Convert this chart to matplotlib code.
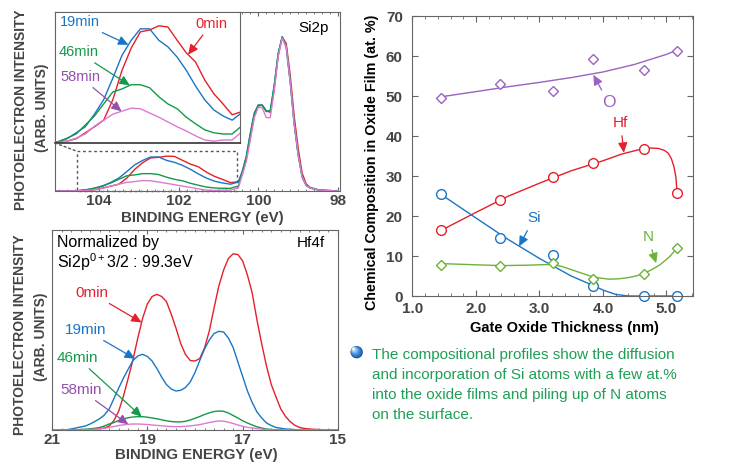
import numpy as np
import matplotlib.pyplot as plt
from matplotlib.patches import Rectangle, ConnectionPatch, Ellipse
from matplotlib.ticker import MultipleLocator

plt.rcParams['font.family'] = ['Liberation Sans', 'DejaVu Sans']
plt.rcParams['mathtext.fontset'] = 'custom'
plt.rcParams['mathtext.rm'] = 'Liberation Sans'
plt.rcParams['mathtext.it'] = 'Liberation Sans:italic'
plt.rcParams['mathtext.bf'] = 'Liberation Sans:bold'

W, H = 735, 465

# --- Si2p spectra (binding energy / intensity, arb. units) ---
si_ev = [105.1, 104.5, 104.3, 104.1, 103.9, 103.7, 103.5, 103.3, 103.1, 102.9, 102.7,
         102.5, 102.3, 102.1, 101.9, 101.7, 101.5, 101.3, 101.1, 100.9, 100.7, 100.5,
         100.4, 100.3, 100.2, 100.1, 100.0, 99.9, 99.8, 99.7, 99.6, 99.5, 99.4, 99.3,
         99.2, 99.1, 99.0, 98.9, 98.8, 98.7, 98.5, 98.3, 98.0]
si_0min = [0.0, 0.002, 0.003, 0.007, 0.017, 0.027, 0.038, 0.072, 0.121, 0.158, 0.185,
           0.188, 0.195, 0.193, 0.171, 0.150, 0.135, 0.105, 0.082, 0.065, 0.047, 0.052,
           0.100, 0.180, 0.300, 0.420, 0.475, 0.480, 0.447, 0.440, 0.570, 0.755, 0.860,
           0.825, 0.650, 0.420, 0.240, 0.100, 0.040, 0.020, 0.008, 0.003, 0.0]
si_19min = [0.0, 0.002, 0.007, 0.017, 0.027, 0.048, 0.072, 0.108, 0.146, 0.171, 0.190,
            0.190, 0.171, 0.160, 0.143, 0.121, 0.095, 0.072, 0.055, 0.045, 0.038, 0.050,
            0.112, 0.196, 0.324, 0.436, 0.480, 0.478, 0.444, 0.447, 0.592, 0.771, 0.860,
            0.804, 0.609, 0.374, 0.201, 0.078, 0.031, 0.017, 0.006, 0.003, 0.0]
si_46min = [0.0, 0.002, 0.008, 0.015, 0.030, 0.045, 0.065, 0.085, 0.090, 0.097, 0.097,
            0.092, 0.077, 0.065, 0.057, 0.043, 0.032, 0.022, 0.017, 0.015, 0.015, 0.028,
            0.105, 0.190, 0.318, 0.432, 0.480, 0.480, 0.447, 0.447, 0.588, 0.768, 0.862,
            0.810, 0.617, 0.380, 0.205, 0.080, 0.032, 0.017, 0.006, 0.003, 0.0]
si_58min = [0.0, 0.001, 0.003, 0.008, 0.015, 0.028, 0.038, 0.048, 0.053, 0.058, 0.057,
            0.050, 0.043, 0.035, 0.027, 0.020, 0.012, 0.005, 0.003, 0.005, 0.005, 0.018,
            0.090, 0.165, 0.285, 0.410, 0.468, 0.465, 0.410, 0.410, 0.560, 0.755, 0.855,
            0.805, 0.615, 0.380, 0.205, 0.080, 0.031, 0.017, 0.006, 0.003, 0.0]

# --- Hf4f spectra ---
hf_ev = [21.0, 20.8, 20.7, 20.6, 20.5, 20.4, 20.3, 20.2, 20.1, 20.0, 19.9, 19.8, 19.7,
         19.6, 19.5, 19.4, 19.3, 19.2, 19.1, 19.0, 18.9, 18.8, 18.7, 18.6, 18.5, 18.4,
         18.3, 18.2, 18.1, 18.0, 17.9, 17.8, 17.7, 17.6, 17.5, 17.4, 17.3, 17.2, 17.1,
         17.0, 16.9, 16.8, 16.7, 16.6, 16.5, 16.4, 16.3, 16.2, 16.1, 16.0, 15.9, 15.8,
         15.7, 15.6, 15.5, 15.4, 15.3, 15.2, 15.0]
hf_0min = [0, 0, 0, 0, 0, 0, 0.001, 0.0025, 0.005, 0.0075, 0.01, 0.02, 0.0475, 0.095,
           0.17, 0.26, 0.3525, 0.46, 0.5575, 0.63, 0.6675, 0.6785, 0.6675, 0.6425, 0.58,
           0.51, 0.4325, 0.3775, 0.3475, 0.345, 0.3575, 0.41, 0.495, 0.61, 0.72, 0.80,
           0.8575, 0.881, 0.8775, 0.845, 0.775, 0.685, 0.55, 0.43, 0.32, 0.2275, 0.165,
           0.105, 0.0675, 0.041, 0.0225, 0.0125, 0.0075, 0.005, 0.0035, 0.0025, 0.001, 0, 0]
hf_19min = [0, 0, 0.001, 0.005, 0.01, 0.015, 0.02, 0.03, 0.0425, 0.0565, 0.075, 0.105,
            0.1575, 0.21, 0.26, 0.305, 0.3475, 0.37, 0.3785, 0.3675, 0.345, 0.3075, 0.265,
            0.2275, 0.205, 0.195, 0.1985, 0.2125, 0.24, 0.2875, 0.3475, 0.405, 0.45,
            0.4825, 0.4935, 0.49, 0.46, 0.4125, 0.34, 0.2675, 0.195, 0.1375, 0.09, 0.06,
            0.035, 0.0225, 0.0125, 0.0085, 0.005, 0.0035, 0.002, 0, 0, 0, 0, 0, 0, 0, 0]
hf_46min = [0, 0, 0, 0, 0.001, 0.0025, 0.004, 0.006, 0.0085, 0.0125, 0.02, 0.03, 0.0375,
            0.0475, 0.055, 0.0615, 0.065, 0.0665, 0.0665, 0.064, 0.06, 0.056, 0.051, 0.046,
            0.0425, 0.0405, 0.0405, 0.0435, 0.05, 0.0585, 0.0675, 0.0775, 0.086, 0.0925,
            0.095, 0.0935, 0.085, 0.0725, 0.06, 0.046, 0.035, 0.025, 0.016, 0.01, 0.005,
            0.0025, 0.001, 0, 0, 0, 0, 0, 0, 0, 0, 0, 0, 0, 0]
hf_58min = [0, 0, 0, 0, 0, 0, 0.001, 0.0025, 0.004, 0.006, 0.0085, 0.0125, 0.0175, 0.0225,
            0.026, 0.0285, 0.03, 0.03, 0.029, 0.0275, 0.025, 0.023, 0.021, 0.019, 0.0175,
            0.0165, 0.017, 0.0185, 0.0205, 0.0235, 0.027, 0.032, 0.0375, 0.042, 0.045,
            0.044, 0.039, 0.0325, 0.025, 0.0185, 0.0135, 0.01, 0.007, 0.0045, 0.0025,
            0.001, 0, 0, 0, 0, 0, 0, 0, 0, 0, 0, 0, 0, 0]

# --- composition vs. gate oxide thickness ---
thickness = [1.45, 2.38, 3.22, 3.85, 4.64, 5.17]
comp_O = [49.4, 52.9, 51.25, 59.25, 56.4, 61.25]
comp_Hf = [16.4, 24.0, 29.75, 33.25, 36.75, 25.7]
comp_Si = [25.4, 14.5, 10.2, 2.4, 0.0, 0.0]
comp_N = [7.75, 7.5, 8.2, 4.2, 5.4, 12.0]

# guide-to-the-eye curves
o_fit_x = [1.45, 2.0, 2.5, 3.0, 3.5, 4.0, 4.5, 5.0, 5.17]
o_fit = [49.8, 51.1, 52.3, 53.4, 54.6, 56.0, 57.9, 60.4, 61.5]
hf_fit_x = [1.45, 2.0, 2.5, 3.0, 3.5, 4.0, 4.3, 4.6, 4.75, 4.87, 4.97, 5.03, 5.08, 5.12, 5.15, 5.17]
hf_fit = [16.4, 20.9, 24.9, 28.2, 31.3, 33.8, 35.5, 36.7, 37.0, 36.9, 36.4, 35.7, 34.3, 32.3, 29.8, 25.7]
si_fit_x = [1.45, 2.0, 2.5, 3.0, 3.5, 3.85, 4.0, 4.2, 4.4, 5.17]
si_fit = [25.4, 19.5, 14.2, 9.4, 5.0, 2.6, 1.5, 0.4, 0.0, 0.0]
n_fit_x = [1.45, 2.0, 2.4, 2.8, 3.2, 3.35, 3.5, 3.65, 3.8, 3.95, 4.1, 4.25, 4.4, 4.52, 4.64, 4.77, 4.9, 5.05, 5.17]
n_fit = [8.1, 7.8, 7.6, 7.7, 7.9, 7.4, 6.6, 5.8, 5.0, 4.5, 4.2, 4.3, 4.6, 5.0, 5.6, 6.6, 7.8, 9.8, 12.0]

RED = '#e5202a'
BLUE = '#1b75c5'
GREEN = '#13994a'
PINK = '#dc7ad2'
PURPLE = '#9450ad'
O_COL = '#9b62c2'
N_COL = '#6db33a'
GREY = '#444444'
FRAME = '#666666'

sessions = ['0min', '19min', '46min', '58min']
si_curves = [si_0min, si_19min, si_46min, si_58min]
hf_curves = [hf_0min, hf_19min, hf_46min, hf_58min]
line_cols = [RED, BLUE, GREEN, PINK]
text_cols = [RED, BLUE, GREEN, PURPLE]
ARROW = '-|>,head_length=0.6,head_width=0.28'


def at(x, xs, ys):
    return float(np.interp(x, xs[::-1], ys[::-1]))


def px_axes(fig, l, t, r, b):
    return fig.add_axes([l / W, 1 - b / H, (r - l) / W, (b - t) / H])


def spectrum_frame(ax):
    for s in ax.spines.values():
        s.set_color(FRAME)
        s.set_linewidth(0.8)
    ax.set_yticks([])
    ax.xaxis.set_minor_locator(MultipleLocator(0.2))
    ax.tick_params(axis='x', which='both', direction='in', top=True, color=FRAME,
                   labelcolor=GREY, labelsize=11, pad=2)
    ax.tick_params(axis='x', which='major', length=3)
    ax.tick_params(axis='x', which='minor', length=1.5)


def label(ax, name, xy, xytext, tc, fs):
    ax.annotate(name, xy=xy, xytext=xytext, color=tc, fontsize=fs, ha='left', va='center',
                arrowprops=dict(arrowstyle=ARROW, color=tc, lw=0.9, shrinkA=1, shrinkB=0,
                                mutation_scale=10))


fig = plt.figure(figsize=(W / 100, H / 100), dpi=100)

# ---------------- Si2p ----------------
ax1 = px_axes(fig, 55, 12, 340, 191)
for ys, c in zip(si_curves, line_cols):
    ax1.plot(si_ev, ys, color=c, lw=1.0, solid_joinstyle='round')
ax1.set_xlim(105.1, 97.95)
ax1.set_ylim(0, 1.0)
spectrum_frame(ax1)
ax1.set_xticks([104, 102, 100, 98], ['104', '102', '100', '98'], fontweight='bold')
ax1.text(99.0, 0.91, 'Si2p', fontsize=11, ha='left', va='center')
ax1.add_patch(Rectangle((100.53, 0), 4.03, 0.223, fill=False, ec='#555555', lw=1.0,
                        ls=(0, (2, 2)), clip_on=False))

# magnified view of the oxide components
axin = px_axes(fig, 55, 12, 240, 143)
for ys, c in zip(si_curves, line_cols):
    axin.plot(si_ev, ys, color=c, lw=1.0, solid_joinstyle='round')
axin.set_xlim(104.56, 100.53)
axin.set_ylim(0, 0.218)
axin.set_xticks([])
axin.set_yticks([])
for s in axin.spines.values():
    s.set_color(FRAME)
    s.set_linewidth(0.8)
axin.spines['bottom'].set_color('#222222')
axin.spines['bottom'].set_linewidth(1.1)

fig.add_artist(ConnectionPatch(xyA=(104.56, 0), coordsA=axin.transData,
                               xyB=(104.56, 0.223), coordsB=ax1.transData,
                               color='#555555', lw=1.0, ls=(0, (1.5, 2))))

si_text = [(101.51, 0.198), (104.45, 0.201), (104.49, 0.151), (104.45, 0.110)]
si_tip = [101.66, 102.96, 102.93, 103.11]
for name, ys, tc, pos, tip in zip(sessions, si_curves, text_cols, si_text, si_tip):
    label(axin, name, (tip, at(tip, si_ev, ys)), pos, tc, 10.5)

fig.text(21 / W, 1 - 110 / H, 'PHOTOELECTRON INTENSITY', rotation=90, ha='center',
         va='center', fontsize=10, fontweight='bold', color=GREY)
fig.text(42 / W, 1 - 108 / H, '(ARB. UNITS)', rotation=90, ha='center', va='center',
         fontsize=10, fontweight='bold', color=GREY)
fig.text(202 / W, 1 - 218 / H, 'BINDING ENERGY (eV)', ha='center', va='center',
         fontsize=10.8, fontweight='bold', color=GREY)

# ---------------- Hf4f ----------------
ax2 = px_axes(fig, 52, 230, 338, 430)
for ys, c in zip(hf_curves, line_cols):
    ax2.plot(hf_ev, ys, color=c, lw=1.0, solid_joinstyle='round')
ax2.set_xlim(21.0, 15.0)
ax2.set_ylim(0, 1.0)
spectrum_frame(ax2)
ax2.set_xticks([21, 19, 17, 15], ['21', '19', '17', '15'], fontweight='bold')
ax2.text(20.9, 0.94, 'Normalized by', fontsize=11.5, ha='left', va='center')
ax2.text(20.9, 0.84, r'Si2p$^{0+}$3/2 : 99.3eV', fontsize=11.5, ha='left', va='center')
ax2.text(15.87, 0.935, 'Hf4f', fontsize=11, ha='left', va='center')

hf_text = [(20.52, 0.685), (20.73, 0.50), (20.90, 0.36), (20.83, 0.20)]
hf_tip = [19.12, 19.26, 19.12, 19.40]
for name, ys, tc, pos, tip in zip(sessions, hf_curves, text_cols, hf_text, hf_tip):
    label(ax2, name, (tip, at(tip, hf_ev, ys)), pos, tc, 11)

fig.text(20 / W, 1 - 335 / H, 'PHOTOELECTRON INTENSITY', rotation=90, ha='center',
         va='center', fontsize=10, fontweight='bold', color=GREY)
fig.text(41 / W, 1 - 337 / H, '(ARB. UNITS)', rotation=90, ha='center', va='center',
         fontsize=10, fontweight='bold', color=GREY)
fig.text(196 / W, 1 - 455 / H, 'BINDING ENERGY (eV)', ha='center', va='center',
         fontsize=10.8, fontweight='bold', color=GREY)

# ---------------- composition ----------------
ax3 = px_axes(fig, 412.5, 16, 693, 296)
ax3.plot(o_fit_x, o_fit, color=O_COL, lw=1.0)
ax3.plot(hf_fit_x, hf_fit, color=RED, lw=1.0)
ax3.plot(si_fit_x, si_fit, color=BLUE, lw=1.0)
ax3.plot(n_fit_x, n_fit, color=N_COL, lw=1.0)
ax3.plot(thickness, comp_O, ls='none', marker='D', ms=5, mfc='white', mec=O_COL, mew=1.0)
ax3.plot(thickness, comp_Hf, ls='none', marker='o', ms=7, mfc='white', mec=RED, mew=1.0)
ax3.plot(thickness, comp_Si, ls='none', marker='o', ms=7, mfc='white', mec=BLUE, mew=1.0,
         clip_on=False)
ax3.plot(thickness, comp_N, ls='none', marker='D', ms=5, mfc='white', mec=N_COL, mew=1.0)
ax3.set_xlim(1.0, 5.42)
ax3.set_ylim(0, 70)
for s in ax3.spines.values():
    s.set_color(FRAME)
    s.set_linewidth(0.8)
ax3.set_xticks([1, 2, 3, 4, 5], ['1.0', '2.0', '3.0', '4.0', '5.0'], fontweight='bold')
ax3.set_yticks(range(0, 80, 10), [str(v) for v in range(0, 80, 10)], fontweight='bold')
ax3.xaxis.set_minor_locator(MultipleLocator(0.2))
ax3.tick_params(which='both', direction='in', top=True, right=True, color=FRAME,
                labelcolor=GREY, labelsize=11)
ax3.tick_params(which='major', length=4)
ax3.tick_params(which='minor', length=2)
ax3.tick_params(axis='y', pad=7)
ax3.tick_params(axis='x', pad=4)

comp_labels = [('O', (3.85, 55.3), (4.09, 48.3), O_COL, 12.5),
               ('Hf', (4.33, 35.8), (4.28, 43.2), RED, 11),
               ('Si', (2.68, 12.4), (2.91, 19.4), BLUE, 11),
               ('N', (4.84, 8.2), (4.71, 14.7), N_COL, 11)]
for name, tip, pos, c, fs in comp_labels:
    ax3.annotate(name, xy=tip, xytext=pos, color=c, fontsize=fs, ha='center', va='center',
                 arrowprops=dict(arrowstyle=ARROW, color=c, lw=0.9, shrinkA=2, shrinkB=0,
                                 mutation_scale=10))

fig.text(372 / W, 1 - 162 / H, 'Chemical Composition in Oxide Film (at. %)', rotation=90,
         ha='center', va='center', fontsize=10.3, fontweight='bold', color='black')
fig.text(564 / W, 1 - 328 / H, 'Gate Oxide Thickness (nm)', ha='center', va='center',
         fontsize=10.5, fontweight='bold', color='black')

# ---------------- note ----------------
# shaded bullet: stacked discs, lighter towards the upper left
for k, shade in enumerate(['#1a5da8', '#2f78c8', '#4a90da', '#74aee6', '#a8cdf2', '#e4f0fc']):
    r = 6.2 * (1 - k * 0.15)
    cx = 356.7 - 1.6 * k * 0.4
    cy = 352.2 - 1.6 * k * 0.4
    fig.add_artist(Ellipse((cx / W, 1 - cy / H), 2 * r / W, 2 * r / H,
                           transform=fig.transFigure, fc=shade, ec='none'))

note = ['The compositional profiles show the diffusion',
        'and incorporation of Si atoms with a few at.%',
        'into the oxide films and piling up of N atoms',
        'on the surface.']
for i, line in enumerate(note):
    fig.text(372 / W, 1 - (355 + 20 * i) / H, line, ha='left', va='center', fontsize=11,
             color='#1f9e55')

fig.savefig('out.png', dpi=100)
